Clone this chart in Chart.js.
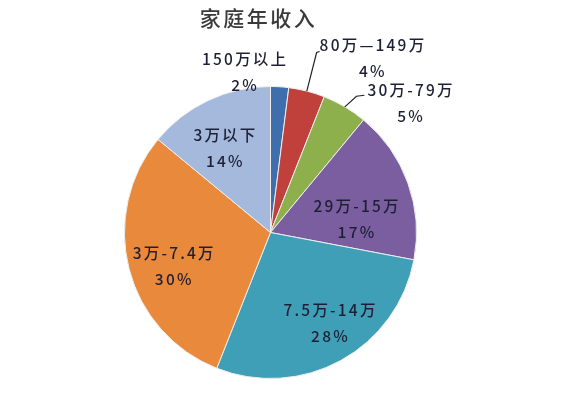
<!DOCTYPE html>
<html>
<head>
<meta charset="utf-8">
<script src="https://cdn.jsdelivr.net/npm/chart.js@4.4.1/dist/chart.umd.min.js"></script>
<style>
  html, body { margin: 0; padding: 0; background: #ffffff; }
  #wrap { width: 565px; height: 401px; position: relative; }
</style>
</head>
<body>
<div id="wrap"><canvas id="c" width="565" height="401"></canvas></div>
<script>
// ---- data ----
const chartTitle = '家庭年收入';
const categories = ['150万以上', '80万—149万', '30万-79万', '29万-15万', '7.5万-14万', '3万-7.4万', '3万以下'];
const percents = [2, 4, 5, 17, 28, 30, 14];

// ---- styles ----
const sliceColors = ['#3e6fac', '#c0403c', '#8db04c', '#7b5e9f', '#3f9fb7', '#e8893b', '#a4b9dc'];
// label placement: [angle offset from slice middle (deg), distance as fraction of radius, leader line]
const labelPlacement = [
  [-12.6, 1.11, false],
  [16.1, 1.383, true],
  [16.8, 1.308, true],
  [10.8, 0.60, false],
  [-4.6, 0.747, false],
  [-4.6, 0.697, false],
  [-3.0, 0.653, false]
];
const labelFont = '500 15.5px "Noto Sans CJK SC", "Noto Sans", sans-serif';
const labelColor = '#1e1f34';

const labelPlugin = {
  id: 'sliceLabels',
  afterDatasetsDraw(chart) {
    const ctx = chart.ctx;
    const meta = chart.getDatasetMeta(0);
    ctx.save();
    // title
    const a0 = meta.data[0];
    ctx.font = '500 21px "Noto Sans CJK SC", sans-serif';
    ctx.letterSpacing = '2.5px';
    ctx.fillStyle = '#3a3a3a';
    ctx.textAlign = 'center';
    ctx.textBaseline = 'middle';
    ctx.fillText(chartTitle, a0.x - 12, 18);

    ctx.font = labelFont;
    ctx.letterSpacing = '2.2px';
    meta.data.forEach((arc, i) => {
      const p = arc.getProps(['x', 'y', 'startAngle', 'endAngle', 'outerRadius'], true);
      const mid = (p.startAngle + p.endAngle) / 2;
      const [offDeg, rf, leader] = labelPlacement[i];
      const ang = mid + offDeg * Math.PI / 180;
      const cx = p.x + Math.cos(ang) * p.outerRadius * rf;
      const cy = p.y + Math.sin(ang) * p.outerRadius * rf;
      const l1 = cy - 13, l2 = cy + 13;
      ctx.fillStyle = labelColor;
      ctx.fillText(categories[i], cx, l1);
      ctx.fillText(percents[i] + '%', cx, l2);
      if (leader) {
        const w = ctx.measureText(categories[i]).width;
        const left = cx - w / 2;
        const ex = p.x + Math.cos(mid) * p.outerRadius * 1.0;
        const ey = p.y + Math.sin(mid) * p.outerRadius * 1.0;
        ctx.strokeStyle = '#222';
        ctx.lineWidth = 1.2;
        ctx.beginPath();
        ctx.moveTo(ex, ey);
        if (i === 2) {
          ctx.lineTo(left - 11, l1 + 6);
          ctx.lineTo(left - 3, l1 + 5);
        } else {
          ctx.lineTo(left - 3, l1 + 7);
          ctx.lineTo(left, l1 + 6);
        }
        ctx.stroke();
      }
    });
    ctx.restore();
  }
};

new Chart(document.getElementById('c'), {
  type: 'pie',
  data: {
    labels: categories,
    datasets: [{
      data: percents,
      backgroundColor: sliceColors,
      borderColor: '#eeeeee',
      borderWidth: 1
    }]
  },
  options: {
    responsive: false,
    animation: false,
    devicePixelRatio: 1,
    layout: { padding: { top: 86, bottom: 22, left: 124, right: 148 } },
    plugins: {
      legend: { display: false },
      tooltip: { enabled: false },
      title: { display: false }
    }
  },
  plugins: [labelPlugin]
});
</script>
</body>
</html>
